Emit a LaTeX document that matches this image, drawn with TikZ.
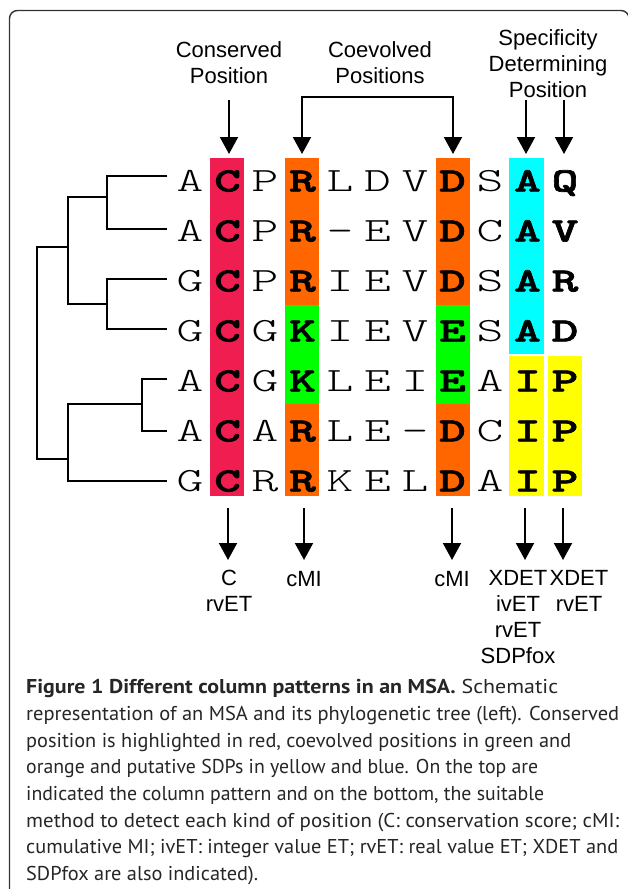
\documentclass[tikz,border=0pt]{standalone}
\usepackage{fontspec}
\setmainfont{Liberation Sans}
\newfontfamily\seqreg{lmmonolt10-regular.otf}[FakeStretch=1.5]
\newfontfamily\seqbold{lmmonolt10-bold.otf}[FakeStretch=1.5,FakeBold=2]
\newfontfamily\capfont{PT Sans}
\usetikzlibrary{arrows.meta}
\definecolor{cred}{RGB}{240,30,80}
\definecolor{corange}{RGB}{255,102,0}
\definecolor{cgreen}{RGB}{0,255,0}
\definecolor{ccyan}{RGB}{0,255,255}
\definecolor{cyellow}{RGB}{255,255,0}
\newlength\capw
\settowidth\capw{\capfont\fontsize{20}{24}\selectfont cumulative MI; ivET: integer value ET; rvET: real value ET; XDET and}
\pgfmathsetmacro\capscale{592pt/\capw}
\newcommand\capl[1]{\scalebox{\capscale}[1]{#1}}
\newcommand\capfit[2]{\resizebox{#1pt}{\height}{#2}}
\tikzset{
  frame/.style={draw=black!80, line width=1.4pt, rounded corners=8pt},
  treeline/.style={line width=2.2pt, line join=miter},
  arr/.style={line width=2pt, -{Triangle[width=18pt,length=17pt]}},
  biarr/.style={line width=2pt, {Triangle[width=18pt,length=17pt]}-{Triangle[width=18pt,length=17pt]}},
  lbl/.style={inner sep=0pt, anchor=north, align=center, font=\fontsize{22}{26}\selectfont},
  seqch/.style={inner sep=0pt, anchor=base, font=\fontsize{34}{34}\selectfont},
  capline/.style={inner sep=0pt, anchor=base west, font=\capfont\fontsize{20}{24}\selectfont, text=black!85}
}
\begin{document}
\begin{tikzpicture}[x=1pt,y=-1pt]
\path[use as bounding box] (0,0) rectangle (628,889);
\clip (0,0) rectangle (628,889);
\fill[white] (0,0) rectangle (628,889);
\draw[frame] (9.5,10.5) rectangle (629,910);

% column highlights
\fill[cred] (210,158) rectangle (244,496);
\fill[corange] (285,158) rectangle (319,305);
\fill[cgreen] (285,305) rectangle (319,404);
\fill[corange] (285,404) rectangle (319,496);
\fill[corange] (436,158) rectangle (470,305);
\fill[cgreen] (436,305) rectangle (470,404);
\fill[corange] (436,404) rectangle (470,496);
\fill[ccyan] (509,158) rectangle (544,354);
\fill[cyellow] (509,356) rectangle (544,496);
\fill[cyellow] (548,356) rectangle (582,496);

% alignment letters
\def\fnt#1{\ifcase#1\seqreg\or\seqbold\or\seqreg\or\seqbold\or\seqreg\or\seqreg\or\seqreg\or\seqbold\or\seqreg\or\seqbold\or\seqbold\fi}
\foreach \sq [count=\r from 0] in {
  {A,C,P,R,L,D,V,D,S,A,Q},
  {A,C,P,R,-,E,V,D,C,A,V},
  {G,C,P,R,I,E,V,D,S,A,R},
  {G,C,G,K,I,E,V,E,S,A,D},
  {A,C,G,K,L,E,I,E,A,I,P},
  {A,C,A,R,L,E,-,D,C,I,P},
  {G,C,R,R,K,E,L,D,A,I,P}} {
  \foreach \ch [count=\c from 0] in \sq {
    \node[seqch] (s-\r-\c) at ({190+37.5*\c},{191.4+50*\r}) {\fnt{\c}\ch};
  }
}

% phylogenetic tree
\coordinate (L1) at (167,176);
\coordinate (L2) at (167,229);
\coordinate (L3) at (167,279);
\coordinate (L4) at (167,329);
\coordinate (L5) at (167,379);
\coordinate (L6) at (167,431);
\coordinate (L7) at (167,481);
\coordinate (n12) at (107,197);
\coordinate (n34) at (107,304);
\coordinate (n56) at (142,404);
\coordinate (nA) at (68,247);
\coordinate (nB) at (68,459);
\coordinate (root) at (37,350);
\draw[treeline] (L1) -| (n12) |- (L2);
\draw[treeline] (L3) -| (n34) |- (L4);
\draw[treeline] (n12) -| (nA) |- (n34);
\draw[treeline] (L5) -| (n56) |- (L6);
\draw[treeline] (n56) -| (nB) |- (L7);
\draw[treeline] (nA) -| (root) |- (nB);

% top labels
\node[lbl] (tcons) at (229,41) {Conserved\\Position};
\node[lbl] (tcoev) at (380,41) {Coevolved\\Positions};
\node[lbl] (tspec) at (548,29) {Specificity\\Determining\\Position};

% top arrows
\coordinate (a1s) at (229,100); \coordinate (a1e) at (229,154);
\draw[arr] (a1s) -- (a1e);
\coordinate (b1e) at (302,154); \coordinate (b2s) at (453,97); \coordinate (b2e) at (453,154);
\draw[biarr] (b1e) |- (b2s) -- (b2e);
\coordinate (c1s) at (526,100); \coordinate (c1e) at (526,154);
\coordinate (c2s) at (564,100); \coordinate (c2e) at (564,154);
\draw[arr] (c1s) -- (c1e);
\draw[arr] (c2s) -- (c2e);

% bottom arrows
\foreach \xx/\nm in {228/d1,304/d2,452/d3,525/d4,563/d5} {
  \coordinate (\nm s) at (\xx,508);
  \coordinate (\nm e) at (\xx,560);
  \draw[arr] (\nm s) -- (\nm e);
}

% bottom labels
\node[lbl] (bC) at (229,570) {C\\rvET};
\node[lbl] (bM1) at (304,571) {cMI};
\node[lbl] (bM2) at (452,571) {cMI};
\node[lbl] (bX1) at (518,570) {XDET\\ivET\\rvET\\SDPfox};
\node[lbl] (bX2) at (579,570) {XDET\\rvET};

% caption
\node[capline] (cap1) at (26,693) {\capfit{532}{\textbf{Figure 1 Different column patterns in an MSA.} Schematic}};
\node[capline] (cap2) at (26,720) {\capfit{593}{representation of an MSA and its phylogenetic tree (left). Conserved}};
\node[capline] (cap3) at (26,747) {\capfit{545}{position is highlighted in red, coevolved positions in green and}};
\node[capline] (cap4) at (26,773) {\capfit{512}{orange and putative SDPs in yellow and blue. On the top are}};
\node[capline] (cap5) at (26,800) {\capfit{518}{indicated the column pattern and on the bottom, the suitable}};
\node[capline] (cap6) at (26,827) {\capfit{593}{method to detect each kind of position (C: conservation score; cMI:}};
\node[capline] (cap7) at (26,853) {\capfit{592}{cumulative MI; ivET: integer value ET; rvET: real value ET; XDET and}};
\node[capline] (cap8) at (26,880) {\capl{SDPfox are also indicated).}};
\end{tikzpicture}
\end{document}
